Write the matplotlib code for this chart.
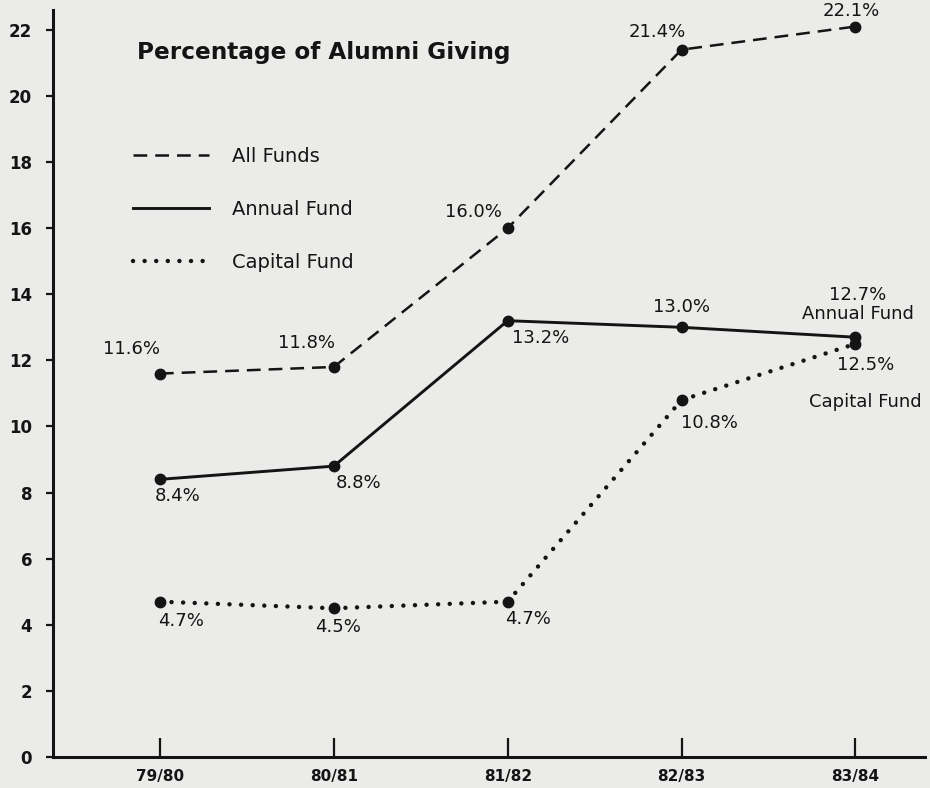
import matplotlib.pyplot as plt

# Donnees
years = ['79/80', '80/81', '81/82', '82/83', '83/84']
all_funds = [11.6, 11.8, 16.0, 21.4, 22.1]
annual_fund = [8.4, 8.8, 13.2, 13.0, 12.7]
capital_fund = [4.7, 4.5, 4.7, 10.8, 12.5]
y_ticks = [0, 2, 4, 6, 8, 10, 12, 14, 16, 18, 20, 22]

ink = '#141414'
bg = '#ebebe9'
plt.rcParams['font.family'] = ['DejaVu Sans']

fig = plt.figure(figsize=(9.3, 7.88), dpi=100, facecolor=bg)
ax = fig.add_axes([53 / 930, 1 - 757 / 788, 872 / 930, 747 / 788])
ax.set_facecolor(bg)

x = list(range(len(years)))

l1, = ax.plot(x, all_funds, color=ink, lw=1.8, linestyle=(0, (5.5, 3.2)),
              marker='o', ms=7.5, label='All Funds')
l2, = ax.plot(x, annual_fund, color=ink, lw=2.1, linestyle='-',
              marker='o', ms=7.5, label='Annual Fund')
l3, = ax.plot(x, capital_fund, color=ink, lw=3.2, linestyle=(0, (0.01, 2.6)),
              dash_capstyle='round', marker='o', ms=7.5, label='Capital Fund')

# etiquettes des points (decalage en pixels)
off_all = [(-28, 25), (-27, 24), (-34, 16), (-24, 18), (-4, 16)]
off_ann = [(18, -17), (25, -17), (33, -17), (0, 20), (2, 14)]
off_cap = [(21, -19), (4, -19), (20, -17), (28, -23), (10, -12)]

def pct(v):
    return '%.1f%%' % v

for i, v in enumerate(all_funds):
    ax.annotate(pct(v), (x[i], v), xytext=off_all[i], textcoords='offset pixels',
                ha='center', va='center', fontsize=13, color=ink)
for i, v in enumerate(annual_fund):
    txt = pct(v)
    va = 'center'
    if i == len(annual_fund) - 1:
        txt = pct(v) + '\nAnnual Fund'
        va = 'bottom'
    ax.annotate(txt, (x[i], v), xytext=off_ann[i], textcoords='offset pixels',
                ha='center', va=va, fontsize=13, color=ink, linespacing=1.1,
                annotation_clip=False)
for i, v in enumerate(capital_fund):
    txt = pct(v)
    va = 'center'
    if i == len(capital_fund) - 1:
        txt = pct(v) + '\n\nCapital Fund'
        va = 'top'
    ax.annotate(txt, (x[i], v), xytext=off_cap[i], textcoords='offset pixels',
                ha='center', va=va, fontsize=13, color=ink, linespacing=1.05,
                annotation_clip=False)

ax.set_xlim(-0.615, 4.40)
ax.set_ylim(0, 22.6)
ax.set_xticks(x)
ax.set_xticklabels(years, fontsize=11, fontweight='bold', color=ink)
ax.set_yticks(y_ticks)
ax.set_yticklabels([str(t) for t in y_ticks], fontsize=12, fontweight='bold', color=ink)
ax.tick_params(axis='x', direction='in', length=14, width=1.6, color=ink, pad=9)
ax.tick_params(axis='y', direction='out', length=5, width=1.6, color=ink, pad=10)

for s in ['top', 'right']:
    ax.spines[s].set_visible(False)
for s in ['left', 'bottom']:
    ax.spines[s].set_linewidth(2.2)
    ax.spines[s].set_color(ink)

fig.text(137 / 930, 1 - 52 / 788, 'Percentage of Alumni Giving', fontsize=16.7,
         fontweight='heavy', color=ink, ha='left', va='center')

leg = ax.legend(handles=[l1, l2, l3], loc='upper left', frameon=False,
                bbox_to_anchor=(133 / 930, 1 - 147 / 788), bbox_transform=fig.transFigure,
                borderaxespad=0, borderpad=0, handlelength=3.9, handletextpad=1.2,
                labelspacing=1.75, fontsize=14)
for h in leg.legend_handles:
    h.set_marker('')
for t in leg.get_texts():
    t.set_color(ink)

fig.savefig('out.png', dpi=100, facecolor=bg)
